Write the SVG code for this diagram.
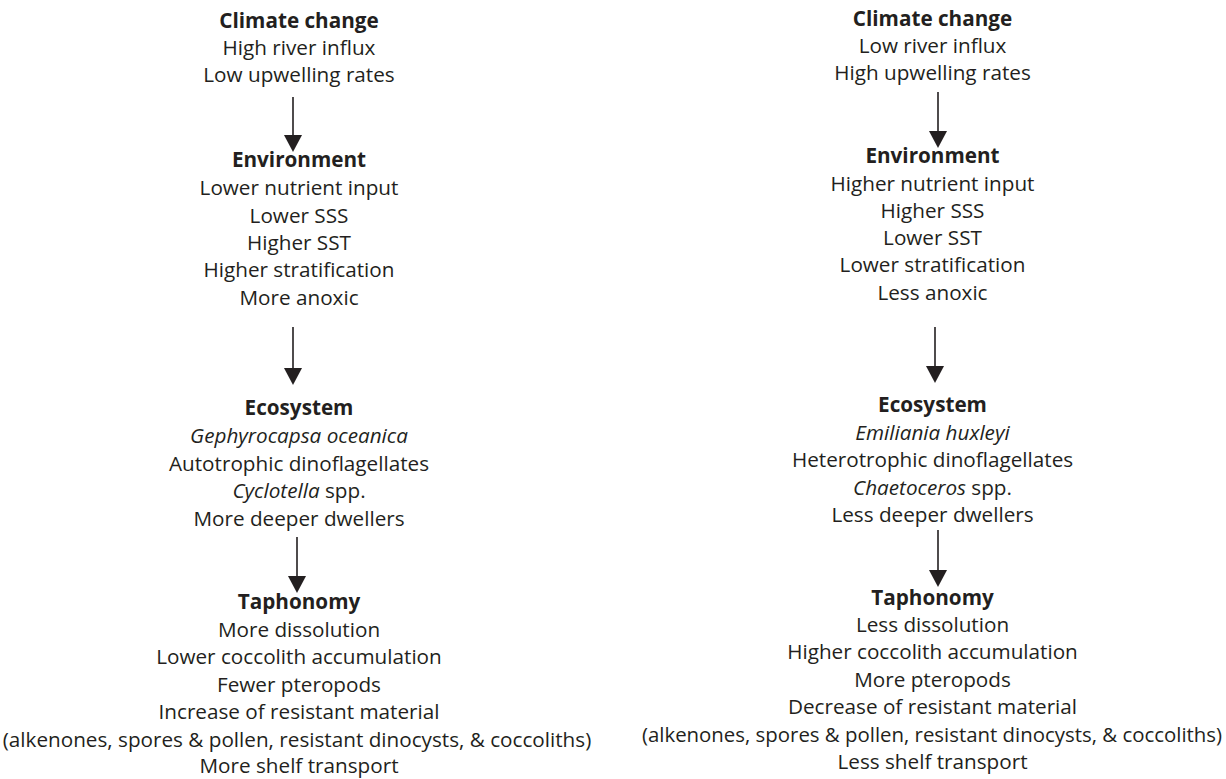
<svg xmlns="http://www.w3.org/2000/svg" width="1226" height="779" viewBox="0 0 1226 779">
<defs>
<style>
text{font-family:"Open Sans","Noto Sans","Liberation Sans",sans-serif;font-size:20.7px;fill:#231f20;text-anchor:middle}
.h{font-weight:bold}
.i{font-style:italic}
.n{font-size:20.4px}
.c{stroke:#231f20;stroke-width:1.6;fill:none}
</style>
<marker id="ah" viewBox="0 0 17 18" refX="0" refY="9" markerWidth="17" markerHeight="18" markerUnits="userSpaceOnUse" orient="auto">
<path d="M0,0 L17,9 L0,18 z" fill="#231f20"/>
</marker>
</defs>
<rect width="1226" height="779" fill="#fff"/>
<g id="left-climate">
<text x="299" y="28" class="h">Climate change</text>
<text x="299" y="55">High river influx</text>
<text x="299" y="82">Low upwelling rates</text>
</g>
<g id="left-environment">
<text x="299" y="167" class="h">Environment</text>
<text x="299" y="195">Lower nutrient input</text>
<text x="299" y="223">Lower SSS</text>
<text x="299" y="250">Higher SST</text>
<text x="299" y="277">Higher stratification</text>
<text x="299" y="305">More anoxic</text>
</g>
<g id="left-ecosystem">
<text x="299" y="415" class="h">Ecosystem</text>
<text x="299" y="443" class="i">Gephyrocapsa oceanica</text>
<text x="299" y="471">Autotrophic dinoflagellates</text>
<text x="299" y="498"><tspan class="i">Cyclotella</tspan> spp.</text>
<text x="299" y="526">More deeper dwellers</text>
</g>
<g id="left-taphonomy">
<text x="299" y="609" class="h">Taphonomy</text>
<text x="299" y="637">More dissolution</text>
<text x="299" y="664">Lower coccolith accumulation</text>
<text x="299" y="692">Fewer pteropods</text>
<text x="299" y="719">Increase of resistant material</text>
<text x="297" y="747">(alkenones, spores &amp; pollen, resistant dinocysts, &amp; coccoliths)</text>
<text x="299" y="773">More shelf transport</text>
</g>
<g id="right-climate">
<text x="932.5" y="26" class="h">Climate change</text>
<text x="932.5" y="53">Low river influx</text>
<text x="932.5" y="80">High upwelling rates</text>
</g>
<g id="right-environment">
<text x="932.5" y="163" class="h">Environment</text>
<text x="932.5" y="191">Higher nutrient input</text>
<text x="932.5" y="218">Higher SSS</text>
<text x="932.5" y="245">Lower SST</text>
<text x="932.5" y="272">Lower stratification</text>
<text x="932.5" y="300">Less anoxic</text>
</g>
<g id="right-ecosystem">
<text x="932.5" y="412" class="h">Ecosystem</text>
<text x="932.5" y="440" class="i">Emiliania huxleyi</text>
<text x="932.5" y="467">Heterotrophic dinoflagellates</text>
<text x="932.5" y="495"><tspan class="i">Chaetoceros</tspan> spp.</text>
<text x="932.5" y="522">Less deeper dwellers</text>
</g>
<g id="right-taphonomy">
<text x="932.5" y="605" class="h">Taphonomy</text>
<text x="932.5" y="632">Less dissolution</text>
<text x="932.5" y="659">Higher coccolith accumulation</text>
<text x="932.5" y="687">More pteropods</text>
<text x="932.5" y="714">Decrease of resistant material</text>
<text x="932" y="742" class="n">(alkenones, spores &amp; pollen, resistant dinocysts, &amp; coccoliths)</text>
<text x="932.5" y="769">Less shelf transport</text>
</g>
<g id="connectors">
<line class="c" x1="293" y1="97" x2="293" y2="135" marker-end="url(#ah)"/>
<line class="c" x1="293" y1="327" x2="293" y2="368" marker-end="url(#ah)"/>
<line class="c" x1="297" y1="537" x2="297" y2="576" marker-end="url(#ah)"/>
<line class="c" x1="938" y1="92" x2="938" y2="131" marker-end="url(#ah)"/>
<line class="c" x1="935" y1="327" x2="935" y2="366" marker-end="url(#ah)"/>
<line class="c" x1="938" y1="530" x2="938" y2="570" marker-end="url(#ah)"/>
</g>
</svg>
